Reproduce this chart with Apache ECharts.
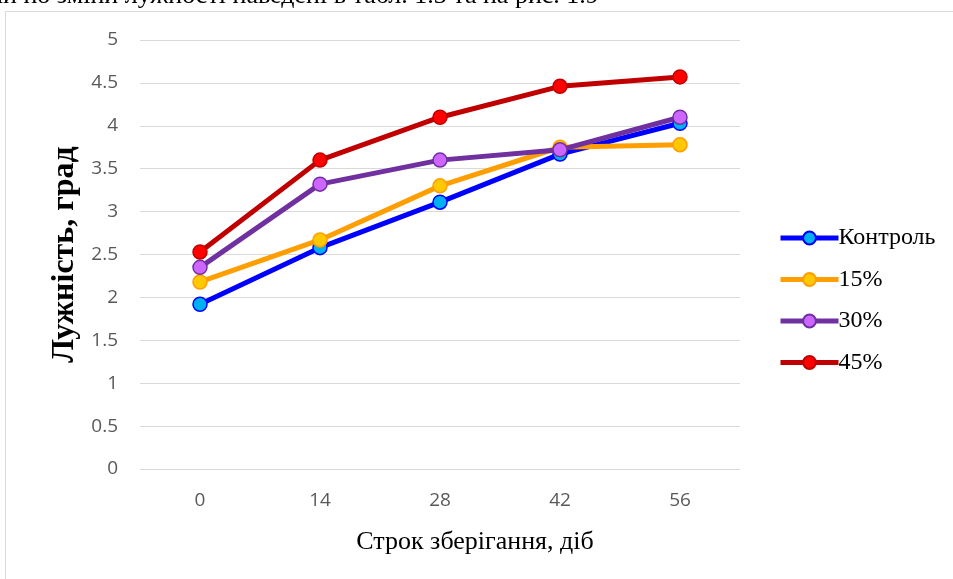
<!DOCTYPE html>
<html>
<head>
<meta charset="utf-8">
<script src="https://cdn.jsdelivr.net/npm/echarts@6/dist/echarts.min.js"></script>
<style>html,body{margin:0;padding:0;background:#fff;}#c{width:953px;height:579px;}</style>
</head>
<body>
<div id="c"></div>
<script>
const categories = ['0', '14', '28', '42', '56'];
const seriesNames = ['Контроль', '15%', '30%', '45%'];
const control = [1.92, 2.58, 3.11, 3.67, 4.03];
const p15 = [2.18, 2.67, 3.30, 3.75, 3.78];
const p30 = [2.35, 3.32, 3.60, 3.72, 4.10];
const p45 = [2.53, 3.60, 4.10, 4.46, 4.57];
const yTicks = { min: 0, max: 5, interval: 0.5 };

const lineColors = ['#0000FF', '#FF9E00', '#7030A0', '#C00000'];
const fillColors = ['#00B0F0', '#FFC800', '#CC66FF', '#FF0000'];
const values = [control, p15, p30, p45];

const chart = echarts.init(document.getElementById('c'), null, { renderer: 'canvas' });
chart.setOption({
  animation: false,
  backgroundColor: '#fff',
  grid: { left: 140, right: 213, top: 40, bottom: 110 },
  graphic: [
    { type: 'rect', shape: { x: 5.5, y: 11.5, width: 1000, height: 700 }, style: { fill: 'none', stroke: '#D9D9D9', lineWidth: 1 }, z: -1 },
    { type: 'text', left: -10, top: -17, style: { text: 'ли по зміни лужності наведені в табл. 1.3 та на рис. 1.9', font: '26px "Liberation Serif"', fill: '#000' } }
  ],
  legend: {
    orient: 'vertical',
    left: 773,
    top: 221,
    itemWidth: 58,
    itemHeight: 16,
    itemGap: 17.5,
    lineStyle: { width: 5 },
    textStyle: { fontFamily: 'Liberation Serif', fontSize: 24, color: '#000', padding: [0, 0, 0, -5] },
    data: seriesNames
  },
  xAxis: {
    type: 'category',
    data: categories,
    boundaryGap: true,
    name: 'Строк зберігання, діб',
    nameLocation: 'middle',
    nameGap: 60,
    nameTextStyle: { fontFamily: 'Liberation Serif', fontSize: 26, color: '#000', padding: [0, 0, 0, 70] },
    axisLine: { show: true, lineStyle: { color: '#D9D9D9', width: 1 } },
    axisTick: { show: false },
    axisLabel: { fontFamily: 'Open Sans', fontSize: 19, color: '#595959', margin: 22 },
  },
  yAxis: {
    type: 'value',
    min: yTicks.min, max: yTicks.max, interval: yTicks.interval,
    name: 'Лужність, град',
    nameLocation: 'middle',
    nameGap: 56,
    nameTextStyle: { fontFamily: 'Liberation Serif', fontSize: 32, fontWeight: 'bold', color: '#000' },
    axisLine: { show: false },
    axisTick: { show: false },
    axisLabel: { fontFamily: 'Open Sans', fontSize: 19, color: '#595959', margin: 22 },
    splitLine: { lineStyle: { color: '#D9D9D9', width: 1 } }
  },
  series: values.map((v, i) => ({
    name: seriesNames[i],
    type: 'line',
    data: v,
    symbol: 'circle',
    symbolSize: 14,
    lineStyle: { color: lineColors[i], width: 5 },
    itemStyle: { color: fillColors[i], borderColor: lineColors[i], borderWidth: 1.5 },
    z: 2 + i
  }))
});
</script>
</body>
</html>
